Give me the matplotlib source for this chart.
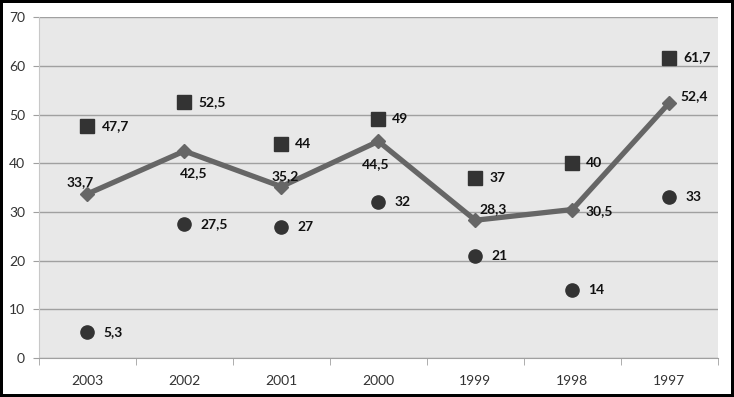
import numpy as np
import matplotlib.pyplot as plt

years = ['2003', '2002', '2001', '2000', '1999', '1998', '1997']
line_vals = [33.7, 42.5, 35.2, 44.5, 28.3, 30.5, 52.4]
square_vals = [47.7, 52.5, 44, 49, 37, 40, 61.7]
circle_vals = [5.3, 27.5, 27, 32, 21, 14, 33]

# label offsets for the line series (pixels)
line_offsets = [(-7, 12), (9, -22), (4, 11), (-3, -23), (18, 11), (27, -2), (25, 7)]


def fmt(v):
    s = ('%g' % v).replace('.', ',')
    return s


plt.rcParams['font.family'] = ['Lato', 'DejaVu Sans']

fig = plt.figure(figsize=(7.34, 3.97), dpi=100)
fig.patch.set_edgecolor('black')
fig.patch.set_linewidth(3)
ax = fig.add_axes([0.053, 0.098, 0.925, 0.859])
ax.set_facecolor('#e8e8e8')

x = np.arange(len(years))
ax.plot(x, square_vals, 's', color='#333333', markersize=10, zorder=3)
ax.plot(x, circle_vals, 'o', color='#333333', markersize=9.5, zorder=3)
ax.plot(x, line_vals, '-D', color='#666666', linewidth=3.8, markersize=7, zorder=4)

for i in range(len(years)):
    ax.annotate(fmt(square_vals[i]), (x[i], square_vals[i]), xytext=(14, 0),
                textcoords='offset pixels', ha='left', va='center',
                fontsize=10, fontweight='bold', color='#111111')
    ax.annotate(fmt(circle_vals[i]), (x[i], circle_vals[i]), xytext=(16, 0),
                textcoords='offset pixels', ha='left', va='center',
                fontsize=10, fontweight='bold', color='#111111')
    dx, dy = line_offsets[i]
    ax.annotate(fmt(line_vals[i]), (x[i], line_vals[i]), xytext=(dx, dy),
                textcoords='offset pixels', ha='center', va='center',
                fontsize=10, fontweight='bold', color='#111111', zorder=5)

ax.set_xlim(-0.5, len(years) - 0.5)
ax.set_ylim(0, 70)
ax.set_yticks(np.arange(0, 71, 10))
ax.set_xticks(x)
ax.set_xticklabels(years)
ax.set_xticks(np.arange(-0.5, len(years), 1), minor=True)
ax.tick_params(axis='x', which='major', length=0, pad=12, labelsize=10, labelcolor='#333333')
ax.tick_params(axis='x', which='minor', length=5, color='#a0a0a0')
ax.tick_params(axis='y', length=4, color='#a0a0a0', labelsize=10, labelcolor='#333333', pad=6)
ax.grid(axis='y', color='#a0a0a0', linewidth=1)
ax.set_axisbelow(True)
for side in ['top', 'right']:
    ax.spines[side].set_visible(False)
ax.spines['left'].set_color('#c8c8c8')
ax.spines['bottom'].set_color('#a0a0a0')

fig.savefig('out.png', dpi=100, edgecolor=fig.get_edgecolor())
